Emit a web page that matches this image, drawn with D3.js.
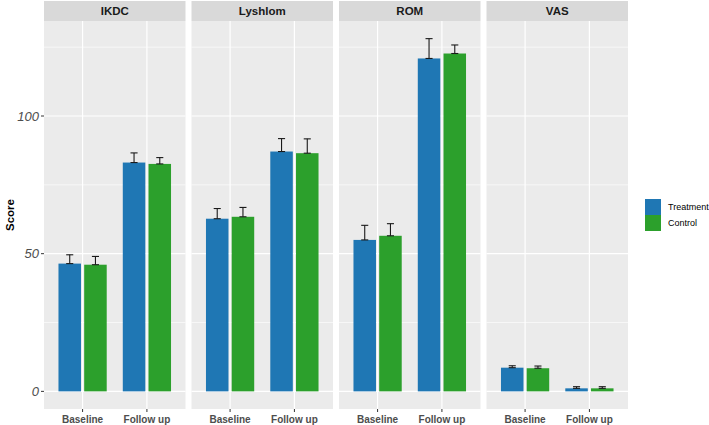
<!DOCTYPE html>
<html>
<head>
<meta charset="utf-8">
<script src="https://d3js.org/d3.v7.min.js"></script>
<style>
  body { margin: 0; background: #fff; }
  text { font-family: "Liberation Sans", Arial, sans-serif; }
</style>
</head>
<body>
<div id="chart"></div>
<script>
// ---- data ----
var measures = ["IKDC", "Lyshlom", "ROM", "VAS"];
var times = ["Baseline", "Follow up"];
var groups = ["Treatment", "Control"];

// mean score, one array per group, ordered measure x time
var treatmentMean = [46.4, 83.1, 62.7, 87.1, 55.0, 120.9, 8.6, 1.1];
var controlMean   = [46.0, 82.6, 63.4, 86.5, 56.5, 122.7, 8.4, 1.1];
// top of error bar
var treatmentUpper = [49.6, 86.6, 66.4, 91.8, 60.3, 128.1, 9.3, 1.7];
var controlUpper   = [49.0, 84.9, 66.8, 91.7, 60.9, 125.8, 9.2, 1.7];

var yTicks = [0, 50, 100];
var yMinor = [25, 75, 125];

var colors = { "Treatment": "#1f77b4", "Control": "#2ca02c" };

// flatten into rows
var rows = [];
measures.forEach(function(m, mi) {
  times.forEach(function(t, ti) {
    var k = mi * 2 + ti;
    rows.push({ measure: m, time: t, group: "Treatment", mean: treatmentMean[k], upper: treatmentUpper[k] });
    rows.push({ measure: m, time: t, group: "Control", mean: controlMean[k], upper: controlUpper[k] });
  });
});

// ---- layout ----
var width = 709, height = 425;
var panelLeft = 44, panelW = 141.5, panelGap = 6;
var stripTop = 1, stripH = 20;
var panelTop = stripTop + stripH, panelBottom = 409;

var svg = d3.select("#chart").append("svg")
  .attr("width", width)
  .attr("height", height);

// y scale with ggplot-like 5% expansion
var yMax = d3.max(rows, function(d) { return d.upper; });
var pad = yMax * 0.05;
var y = d3.scaleLinear()
  .domain([-pad, yMax + pad])
  .range([panelBottom, panelTop]);

// x scale inside a panel: discrete with 0.6 expansion each side
var x = d3.scaleLinear().domain([0.4, 2.6]).range([0, panelW]);
var dodge = 0.2, barW = 0.35, capW = 0.11;

measures.forEach(function(m, mi) {
  var px = panelLeft + mi * (panelW + panelGap);
  var g = svg.append("g").attr("transform", "translate(" + px + ",0)");

  // panel background
  g.append("rect")
    .attr("x", 0).attr("y", panelTop)
    .attr("width", panelW).attr("height", panelBottom - panelTop)
    .attr("fill", "#ebebeb");

  // strip
  g.append("rect")
    .attr("x", 0).attr("y", stripTop)
    .attr("width", panelW).attr("height", stripH)
    .attr("fill", "#d9d9d9");
  g.append("text")
    .attr("x", panelW / 2).attr("y", stripTop + stripH / 2)
    .attr("dy", "0.36em")
    .attr("text-anchor", "middle")
    .attr("font-size", 11.5).attr("font-weight", "bold")
    .attr("fill", "#1a1a1a")
    .text(m);

  // grid lines
  yMinor.forEach(function(v) {
    g.append("line")
      .attr("x1", 0).attr("x2", panelW)
      .attr("y1", y(v)).attr("y2", y(v))
      .attr("stroke", "#fff").attr("stroke-width", 0.6);
  });
  yTicks.forEach(function(v) {
    g.append("line")
      .attr("x1", 0).attr("x2", panelW)
      .attr("y1", y(v)).attr("y2", y(v))
      .attr("stroke", "#fff").attr("stroke-width", 1.2);
  });
  times.forEach(function(t, ti) {
    g.append("line")
      .attr("x1", x(ti + 1)).attr("x2", x(ti + 1))
      .attr("y1", panelTop).attr("y2", panelBottom)
      .attr("stroke", "#fff").attr("stroke-width", 1.2);
  });

  var data = rows.filter(function(d) { return d.measure === m; });

  // bars
  g.selectAll("rect.bar").data(data).enter().append("rect")
    .attr("class", "bar")
    .attr("x", function(d) {
      var c = times.indexOf(d.time) + 1 + (d.group === "Treatment" ? -dodge : dodge);
      return x(c - barW / 2);
    })
    .attr("width", x(barW) - x(0))
    .attr("y", function(d) { return y(d.mean); })
    .attr("height", function(d) { return y(0) - y(d.mean); })
    .attr("fill", function(d) { return colors[d.group]; });

  // error bars (mean to upper)
  data.forEach(function(d) {
    var c = times.indexOf(d.time) + 1 + (d.group === "Treatment" ? -dodge : dodge);
    var eg = g.append("g").attr("stroke", "#1a1a1a").attr("stroke-width", 1.1).attr("fill", "none");
    eg.append("line")
      .attr("x1", x(c)).attr("x2", x(c))
      .attr("y1", y(d.mean)).attr("y2", y(d.upper));
    [d.mean, d.upper].forEach(function(v) {
      eg.append("line")
        .attr("x1", x(c - capW / 2)).attr("x2", x(c + capW / 2))
        .attr("y1", y(v)).attr("y2", y(v));
    });
  });

  // x axis ticks + labels
  times.forEach(function(t, ti) {
    g.append("line")
      .attr("x1", x(ti + 1)).attr("x2", x(ti + 1))
      .attr("y1", panelBottom).attr("y2", panelBottom + 3)
      .attr("stroke", "#333").attr("stroke-width", 1);
    g.append("text")
      .attr("x", x(ti + 1)).attr("y", panelBottom + 10)
      .attr("dy", "0.36em")
      .attr("text-anchor", "middle")
      .attr("font-size", 10).attr("font-weight", "bold")
      .attr("fill", "#4d4d4d")
      .text(t);
  });
});

// y axis: ticks and labels
var yAxis = svg.append("g");
yTicks.forEach(function(v) {
  yAxis.append("line")
    .attr("x1", panelLeft - 3).attr("x2", panelLeft)
    .attr("y1", y(v)).attr("y2", y(v))
    .attr("stroke", "#333").attr("stroke-width", 1);
  yAxis.append("text")
    .attr("x", panelLeft - 5).attr("y", y(v))
    .attr("dy", "0.36em")
    .attr("text-anchor", "end")
    .attr("font-size", 13).attr("font-style", "italic")
    .attr("fill", "#4d4d4d")
    .text(v);
});

// y axis title
svg.append("text")
  .attr("transform", "translate(10," + ((panelTop + panelBottom) / 2) + ") rotate(-90)")
  .attr("dy", "0.36em")
  .attr("text-anchor", "middle")
  .attr("font-size", 11.5).attr("font-weight", "bold")
  .attr("fill", "#000")
  .text("Score");

// legend
var legend = svg.append("g").attr("transform", "translate(645,199)");
groups.forEach(function(gname, i) {
  legend.append("rect")
    .attr("x", 0).attr("y", i * 16)
    .attr("width", 16).attr("height", 16)
    .attr("fill", colors[gname]);
  legend.append("text")
    .attr("x", 23).attr("y", i * 16 + 8)
    .attr("dy", "0.36em")
    .attr("font-size", 9)
    .attr("fill", "#000")
    .text(gname);
});
</script>
</body>
</html>
